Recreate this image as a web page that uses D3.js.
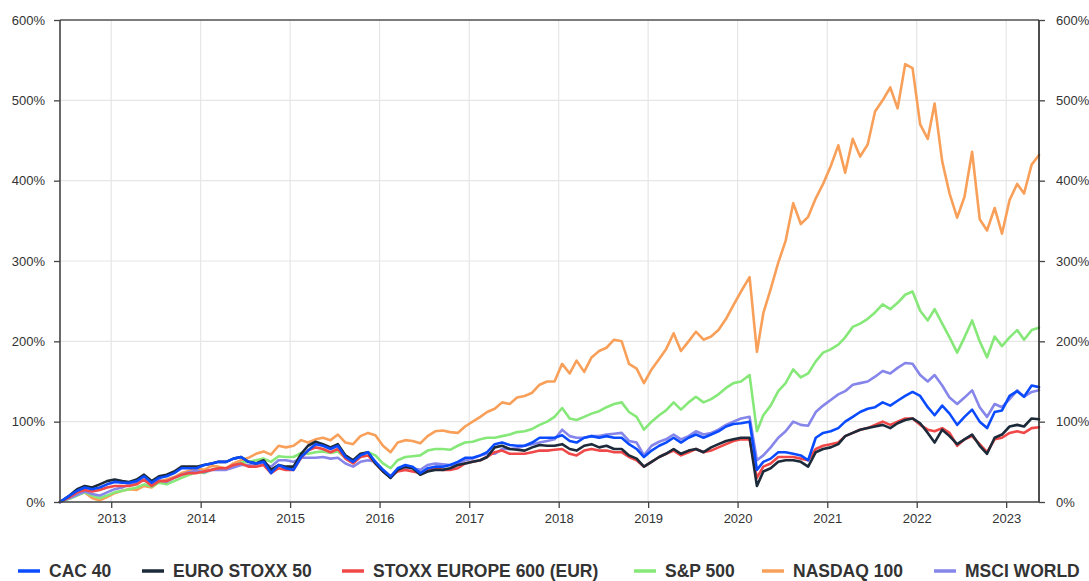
<!DOCTYPE html>
<html><head><meta charset="utf-8">
<script src="https://cdn.jsdelivr.net/npm/d3@7"></script>
<style>
html,body{margin:0;padding:0;background:#fff;}
svg{display:block;font-family:"Liberation Sans",Arial,Helvetica,sans-serif;}
</style></head>
<body><svg id="chart" width="1089" height="581"></svg>
<script>
// ---- data (monthly, Jun 2012 .. May 2023, performance in %) ----
const seriesNames = ["CAC 40","EURO STOXX 50","STOXX EUROPE 600 (EUR)","S&P 500","NASDAQ 100","MSCI WORLD"];
const yTicks = [0,100,200,300,400,500,600];
const xTickYears = [2013,2014,2015,2016,2017,2018,2019,2020,2021,2022,2023];
const firstMonth = "2012-06";
const lastMonth = "2023-05";
const dateOverrides = [["2012-06","2012-06-06"],["2020-03","2020-03-20"],["2020-02","2020-02-19"]];

const cac40 = [0,8,14,18,16,18,22,
25,24,24,26,32,24,30,32,36,42,42,42,
46,48,50,50,54,56,50,48,50,36,46,42,
40,56,64,72,70,66,70,56,50,58,62,50,
40,32,42,46,44,36,42,44,44,46,50,55,
55,58,62,72,74,71,70,70,74,80,80,80,
83,76,74,80,82,80,82,80,80,72,66,56,
64,70,74,80,74,80,84,80,84,88,94,97,
98,100,40,50,54,62,62,60,58,52,80,86,
88,92,100,106,112,116,118,124,120,126,132,137,
132,118,108,120,110,96,106,115,100,92,112,114,
132,138,131,145,143];
const euroStoxx50 = [0,8,16,20,18,22,26,
28,26,25,28,34,26,32,34,38,44,44,44,
46,48,50,50,54,56,50,48,52,40,46,44,
44,60,70,75,72,68,72,58,52,60,62,48,
38,30,40,44,42,34,38,40,40,42,46,48,
50,52,56,68,70,66,65,64,68,71,70,70,
72,66,64,70,72,68,70,66,66,58,54,44,
50,56,60,66,60,64,66,62,68,72,76,78,
80,80,20,38,42,50,52,52,50,44,62,66,
68,72,82,86,90,92,94,96,92,98,102,104,
98,86,74,90,82,72,78,84,70,60,80,84,
94,96,94,104,103];
const stoxx600 = [0,6,12,15,13,15,18,
20,20,20,22,28,20,26,26,30,34,36,36,
38,40,42,42,46,48,44,44,46,36,42,40,
40,55,64,68,66,62,66,54,48,56,58,48,
38,32,38,40,38,36,40,42,40,40,42,48,
50,52,56,62,64,60,60,60,62,64,64,65,
66,60,58,64,66,64,64,62,62,56,52,44,
50,56,60,64,58,62,66,62,64,68,72,76,
78,78,30,44,48,56,56,56,54,52,66,70,
72,74,82,86,90,92,96,100,96,100,104,104,
96,90,88,92,86,70,78,82,72,62,78,80,
86,88,86,92,93];
const sp500 = [0,4,8,12,8,5,8,
12,14,16,18,22,19,24,22,26,30,34,37,
36,40,42,42,45,49,50,52,54,50,57,56,
56,61,60,62,63,61,63,55,50,58,62,58,
48,42,52,56,57,58,64,66,66,65,70,74,
75,78,80,80,82,84,87,88,91,96,100,106,
117,104,102,106,110,113,118,122,124,112,106,90,
100,108,114,124,115,124,131,124,128,134,142,148,
150,158,88,108,120,138,148,165,155,160,175,186,
190,196,205,218,222,228,236,246,240,248,258,262,
238,226,240,222,205,186,205,226,200,180,206,194,
205,214,202,214,217];
const nasdaq100 = [0,6,10,12,5,2,6,
11,14,16,15,20,18,25,28,31,36,39,42,
40,45,44,42,48,52,55,60,63,59,70,68,
70,77,74,78,80,77,84,74,72,82,86,83,
70,62,74,77,76,73,82,88,89,87,86,94,
100,106,112,116,124,122,130,132,136,146,150,150,
172,160,176,162,180,188,192,202,200,172,166,148,
165,178,190,210,188,200,212,202,206,214,228,245,
262,280,187,235,265,298,325,372,346,355,378,396,
418,444,410,452,430,445,486,500,516,490,545,540,
470,452,496,424,384,354,380,436,352,338,366,334,
376,396,384,420,432];
const msciWorld = [0,5,9,13,10,8,12,
16,18,22,24,27,22,27,25,30,34,37,39,
37,40,40,40,43,46,46,47,48,44,52,52,
50,55,55,55,56,54,55,48,44,50,52,50,
40,30,40,42,42,40,46,48,47,46,48,52,
54,58,60,60,66,66,67,70,72,74,76,78,
90,82,80,80,82,82,84,85,86,76,74,58,
70,75,78,84,78,82,88,84,86,90,96,100,
104,106,52,58,68,80,88,100,96,95,112,120,
127,134,138,146,148,150,156,163,160,167,173,172,
158,150,158,145,130,122,130,139,118,106,122,118,
128,139,131,137,139];

const seriesValues = [cac40, euroStoxx50, stoxx600, sp500, nasdaq100, msciWorld];
const seriesColors = ["#0a4bff","#1c2a3a","#f04848","#86e878","#f8a05a","#8585ea"];
const drawOrder = [4,3,5,2,1,0];

// ---- build dates ----
const parseM = d3.timeParse("%Y-%m"), parseD = d3.timeParse("%Y-%m-%d"), fmtM = d3.timeFormat("%Y-%m");
const ov = new Map(dateOverrides);
const dates = d3.timeMonth.range(parseM(firstMonth), d3.timeMonth.offset(parseM(lastMonth),1))
  .map(m => ov.has(fmtM(m)) ? parseD(ov.get(fmtM(m))) : d3.timeDay.offset(m,14));

// ---- layout ----
const W = 1089, H = 581;
const m = {left:60, right:50, top:20, bottom:79};
const svg = d3.select("#chart");
const x = d3.scaleTime().domain([dates[0], dates[dates.length-1]]).range([m.left, W-m.right]);
const y = d3.scaleLinear().domain([0,600]).range([H-m.bottom, m.top]);

// grid
const g = svg.append("g");
g.selectAll(".hg").data(yTicks).join("line")
  .attr("x1", m.left).attr("x2", W-m.right)
  .attr("y1", d=>y(d)).attr("y2", d=>y(d))
  .attr("stroke","#e6e6e6").attr("stroke-width",1.2);
const yearDates = xTickYears.map(yr => new Date(yr,0,1));
g.selectAll(".vg").data(yearDates).join("line")
  .attr("x1", d=>x(d)).attr("x2", d=>x(d))
  .attr("y1", m.top).attr("y2", H-m.bottom)
  .attr("stroke","#e6e6e6").attr("stroke-width",1.2);

// lines
const line = d3.line().x((d,i)=>x(dates[i])).y(d=>y(d)).curve(d3.curveLinear);
drawOrder.forEach(k=>{
  svg.append("path").datum(seriesValues[k])
    .attr("d", line).attr("fill","none")
    .attr("stroke", seriesColors[k]).attr("stroke-width",2.6)
    .attr("stroke-linejoin","round").attr("stroke-linecap","round");
});

// top border
svg.append("line").attr("x1",m.left).attr("x2",W-m.right).attr("y1",m.top).attr("y2",m.top)
  .attr("stroke","#555").attr("stroke-width",1.5);

// axes
const fmtPct = d => d + "%";
const axL = svg.append("g").attr("transform",`translate(${m.left},0)`)
  .call(d3.axisLeft(y).tickValues(yTicks).tickFormat(fmtPct).tickSize(6).tickPadding(9));
const axR = svg.append("g").attr("transform",`translate(${W-m.right},0)`)
  .call(d3.axisRight(y).tickValues(yTicks).tickFormat(fmtPct).tickSize(6).tickPadding(11));
const axB = svg.append("g").attr("transform",`translate(0,${H-m.bottom})`)
  .call(d3.axisBottom(x).tickValues(yearDates).tickFormat(d3.timeFormat("%Y")).tickSize(6).tickPadding(6));
[axL,axR,axB].forEach(a=>{
  a.select(".domain").attr("stroke","#444").attr("stroke-width",1.6);
  a.selectAll(".tick line").attr("stroke","#444").attr("stroke-width",1.3);
  a.selectAll("text").attr("fill","#333").style("font-size","13px");
});
axL.select(".domain").attr("d",`M0,${m.top}V${H-m.bottom}`);
axR.select(".domain").attr("d",`M0,${m.top}V${H-m.bottom}`).attr("stroke","#222");
axB.select(".domain").attr("d",`M${m.left},0H${W-m.right}`);

// legend
const legendTextX = [49,173,373,665,793,965];
const leg = svg.append("g").attr("transform","translate(0,571)");
seriesNames.forEach((name,k)=>{
  const tx = legendTextX[k];
  leg.append("line").attr("x1",tx-31).attr("x2",tx-9).attr("y1",0).attr("y2",0)
    .attr("stroke",seriesColors[k]).attr("stroke-width",3.5);
  leg.append("text").attr("x",tx).attr("y",0).attr("dy","0.35em")
    .attr("fill","#333").style("font-size","17.5px").style("font-weight","bold").text(name);
});
</script></body></html>
